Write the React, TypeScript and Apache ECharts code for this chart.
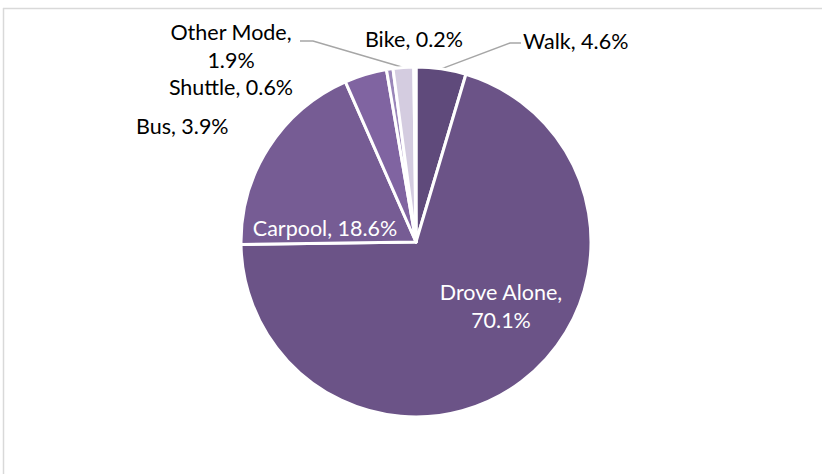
import React, { useEffect, useRef } from "react";
import * as echarts from "echarts";

const categories = ["Walk", "Drove Alone", "Carpool", "Bus", "Shuttle", "Other Mode", "Bike"];
const shares = [4.6, 70.1, 18.6, 3.9, 0.6, 1.9, 0.2];
const colors = ["#5f4a7b", "#6b5387", "#765c94", "#8064a1", "#9a86b9", "#d4cce0", "#e6e0ee"];
const labelTexts = [
  "Walk, 4.6%",
  "Drove Alone,\n70.1%",
  "Carpool, 18.6%",
  "Bus, 3.9%",
  "Shuttle, 0.6%",
  "Other Mode,\n1.9%",
  "Bike, 0.2%",
];

const CX = 416;
const CY = 242;
const R = 175;

// label placement (layout only)
const labelPos: { x: number; y: number; align: "left" | "center" }[] = [
  { x: 523, y: 41, align: "left" },
  { x: 501, y: 306, align: "center" },
  { x: 325, y: 228, align: "center" },
  { x: 136, y: 126, align: "left" },
  { x: 231, y: 87, align: "center" },
  { x: 231, y: 46, align: "center" },
  { x: 414, y: 39, align: "center" },
];
const inside = [false, true, true, false, false, false, false];
const withLine = [true, false, false, false, false, true, false];
const lineKnees: Record<number, [number, number][]> = {
  0: [[510, 43], [521, 43]],
  5: [[313, 41], [300, 41]],
};

export default function App() {
  const ref = useRef<HTMLDivElement>(null);
  useEffect(() => {
    if (!ref.current) return;
    const chart = echarts.init(ref.current, undefined, { renderer: "svg" });
    const total = shares.reduce((a, b) => a + b, 0);
    const midAngles: number[] = [];
    let acc = 0;
    shares.forEach((v) => {
      midAngles.push(((acc + v / 2) / total) * Math.PI * 2);
      acc += v;
    });
    chart.setOption({
      animation: false,
      backgroundColor: "#ffffff",
      graphic: [
        { type: "line", shape: { x1: 3, y1: 8.5, x2: 822, y2: 8.5 }, style: { stroke: "#d9d9d9", lineWidth: 1.5 } },
        { type: "line", shape: { x1: 3.5, y1: 8, x2: 3.5, y2: 474 }, style: { stroke: "#d9d9d9", lineWidth: 1.5 } },
      ],
      series: [
        {
          type: "pie",
          center: [CX, CY],
          radius: [0, R],
          startAngle: 90,
          clockwise: true,
          avoidLabelOverlap: false,
          itemStyle: { borderColor: "#ffffff", borderWidth: 3 },
          label: {
            fontFamily: "Lato, 'Open Sans', sans-serif",
            fontSize: 21.5,
            lineHeight: 28,
            color: "#000000",
          },
          labelLine: { lineStyle: { color: "#a6a6a6", width: 1.5 }, length: 20, length2: 10 },
          labelLayout: (params: any) => {
            const i = params.dataIndex;
            const p = labelPos[i];
            const out: any = {
              x: p.x,
              y: p.y,
              align: p.align,
              verticalAlign: "middle",
            };
            if (withLine[i]) {
              const a = midAngles[i];
              const edge: [number, number] = [CX + R * Math.sin(a), CY - R * Math.cos(a)];
              out.labelLinePoints = [edge, ...lineKnees[i]];
            }
            return out;
          },
          data: categories.map((name, i) => ({
            name,
            value: shares[i],
            itemStyle: { color: colors[i] },
            label: {
              show: true,
              position: inside[i] ? "inside" : "outside",
              color: inside[i] ? "#ffffff" : "#000000",
              formatter: () => labelTexts[i],
              align: labelPos[i].align,
            },
            labelLine: { show: withLine[i] },
          })),
        },
      ],
    });
    return () => chart.dispose();
  }, []);
  return (
    <div
      ref={ref}
      style={{ position: "fixed", left: 0, top: 0, width: 825, height: 474 }}
    />
  );
}
